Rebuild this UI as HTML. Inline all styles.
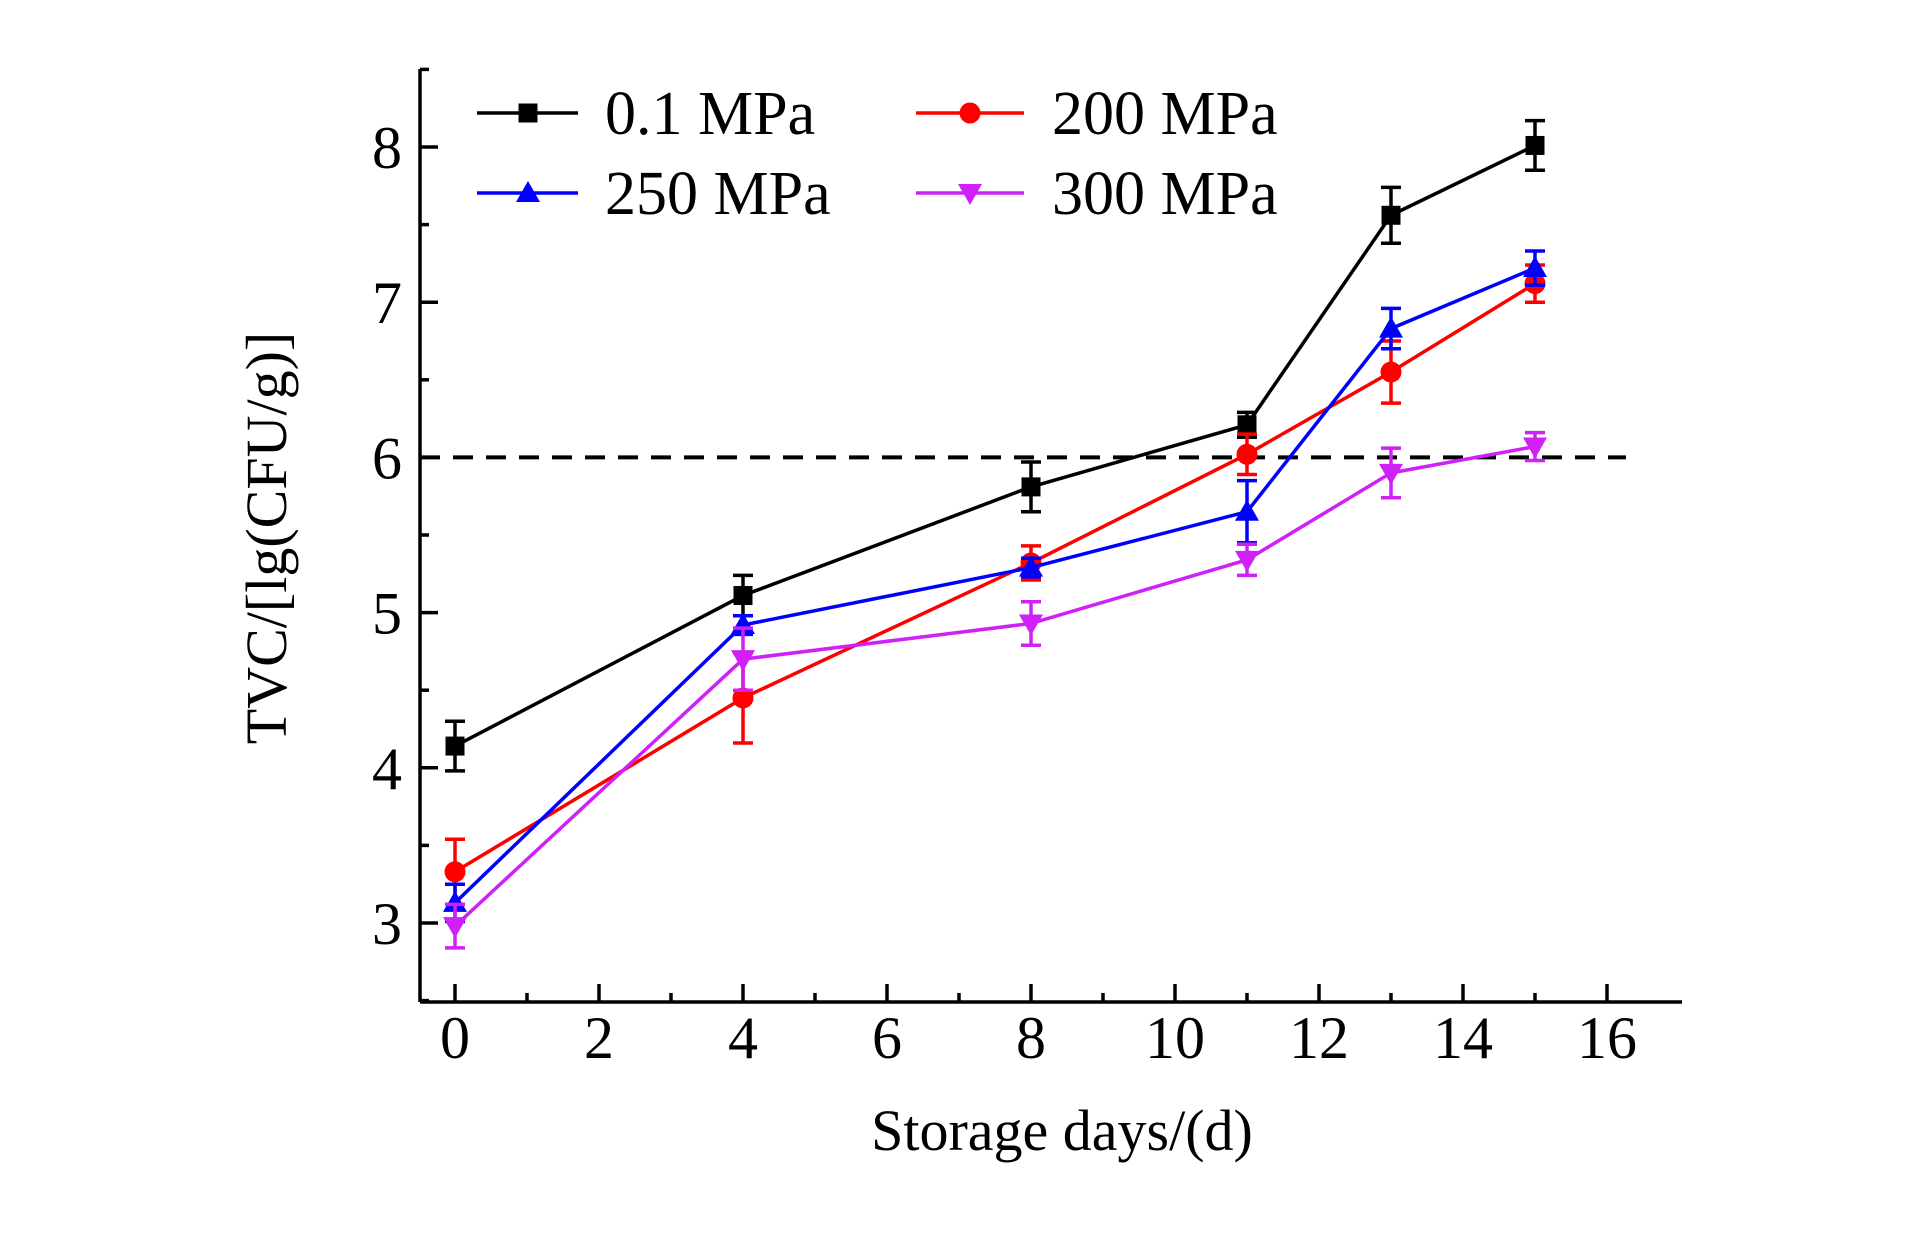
<!DOCTYPE html>
<html><head><meta charset="utf-8"><style>
body{margin:0;background:#fff;}
svg text{font-family:"Liberation Serif",serif;}
</style></head><body>
<svg id="chart" width="1923" height="1235" xmlns="http://www.w3.org/2000/svg">
<g id="axes"></g>
<g id="plot"></g>
<g id="legend"></g>
</svg>
<script>
const days=[0,4,8,11,13,15];
const s01=[4.14,5.11,5.81,6.21,7.56,8.01];
const e01=[0.16,0.13,0.16,0.08,0.18,0.16];
const s200=[3.33,4.45,5.32,6.02,6.55,7.12];
const e200=[0.21,0.29,0.11,0.13,0.20,0.12];
const s250=[3.13,4.92,5.29,5.65,6.83,7.22];
const e250=[0.12,0.06,0.06,0.20,0.13,0.11];
const s300=[2.98,4.70,4.93,5.34,5.90,6.07];
const e300=[0.14,0.20,0.14,0.10,0.16,0.09];
const xTicks=[0,2,4,6,8,10,12,14,16];
const yTicks=[3,4,5,6,7,8];
const threshold=6;

const NS="http://www.w3.org/2000/svg";
const X=v=>455+v*72;
const Y=v=>147+(8-v)*(923-147)/5;
function mk(tag,attrs,parent){const e=document.createElementNS(NS,tag);for(const k in attrs)e.setAttribute(k,attrs[k]);parent.appendChild(e);return e;}
const ax=document.getElementById('axes'),pl=document.getElementById('plot'),lg=document.getElementById('legend');
const L=420,R=1682,T=69,B=1002;
let a=mk('line',{x1:L,y1:T,x2:L,y2:B,stroke:'#000','stroke-width':3.5},ax);

a=mk('line',{x1:L,y1:B,x2:R,y2:B,stroke:'#000','stroke-width':3.5},ax);

for(let v=0;v<=16;v++){const major=v%2==0;mk('line',{x1:X(v),y1:B,x2:X(v),y2:B-(major?18:9),stroke:'#000','stroke-width':3.5},ax);}
xTicks.forEach(v=>{const t=mk('text',{x:X(v),y:1058,'font-size':60,'text-anchor':'middle'},ax);t.textContent=v;
});
for(let v=2.5;v<=8.5;v+=0.5){const major=Math.abs(v-Math.round(v))<1e-6;mk('line',{x1:L,y1:Y(v),x2:L+(major?18:9),y2:Y(v),stroke:'#000','stroke-width':3.5},ax);}
yTicks.forEach(v=>{const t=mk('text',{x:L-18,y:Y(v)+21,'font-size':60,'text-anchor':'end'},ax);t.textContent=v;
});
let t=mk('text',{x:1062,y:1150,'font-size':58,'text-anchor':'middle'},ax);t.textContent='Storage days/(d)';

t=mk('text',{x:0,y:0,'font-size':58,'text-anchor':'middle',transform:'translate(286,538) rotate(-90)'},ax);t.textContent='TVC/[lg(CFU/g)]';

let d=mk('line',{x1:L,y1:Y(threshold),x2:1626,y2:Y(threshold),stroke:'#000','stroke-width':4,'stroke-dasharray':'20,13'},pl);


function marker(type,cx,cy,col,parent){
 const r=9.5;
 if(type=='sq')return mk('rect',{x:cx-r,y:cy-r,width:2*r,height:2*r,fill:col},parent);
 if(type=='ci')return mk('circle',{cx:cx,cy:cy,r:r+1,fill:col},parent);
 if(type=='up')return mk('polygon',{points:`${cx},${cy-12} ${cx-12},${cy+9} ${cx+12},${cy+9}`,fill:col},parent);
 return mk('polygon',{points:`${cx},${cy+12} ${cx-12},${cy-9} ${cx+12},${cy-9}`,fill:col},parent);
}
const series=[
 {name:'0.1-mpa',vals:s01,err:e01,col:'#000',m:'sq'},
 {name:'200-mpa',vals:s200,err:e200,col:'#f00',m:'ci'},
 {name:'250-mpa',vals:s250,err:e250,col:'#00f',m:'up'},
 {name:'300-mpa',vals:s300,err:e300,col:'#d020f8',m:'dn'}];
series.forEach(s=>{
 const g=mk('g',{},pl);
 
 const p=mk('polyline',{points:days.map((x,i)=>X(x)+','+Y(s.vals[i])).join(' '),fill:'none',stroke:s.col,'stroke-width':3.5},g);
 
 days.forEach((x,i)=>{
  const cx=X(x),y1=Y(s.vals[i]+s.err[i]),y2=Y(s.vals[i]-s.err[i]);
  mk('line',{x1:cx,y1:y1,x2:cx,y2:y2,stroke:s.col,'stroke-width':3.5},g);
  mk('line',{x1:cx-10,y1:y1,x2:cx+10,y2:y1,stroke:s.col,'stroke-width':3.5},g);
  mk('line',{x1:cx-10,y1:y2,x2:cx+10,y2:y2,stroke:s.col,'stroke-width':3.5},g);
  const m=marker(s.m,cx,Y(s.vals[i]),s.col,g);
  
 });
});
const leg=[['0.1 MPa','#000','sq',477,578,528,605,113],['200 MPa','#f00','ci',916,1024,970,1052,113],
 ['250 MPa','#00f','up',477,578,528,605,193],['300 MPa','#d020f8','dn',916,1024,970,1052,193]];
leg.forEach(l=>{
 const g=mk('g',{},lg);
 
 mk('line',{x1:l[3],y1:l[7],x2:l[4],y2:l[7],stroke:l[1],'stroke-width':3.5},g);
 marker(l[2],l[5],l[7],l[1],g);
 const tt=mk('text',{x:l[6],y:l[7]+21,'font-size':62},g);tt.textContent=l[0];
});
</script>
</body></html>
